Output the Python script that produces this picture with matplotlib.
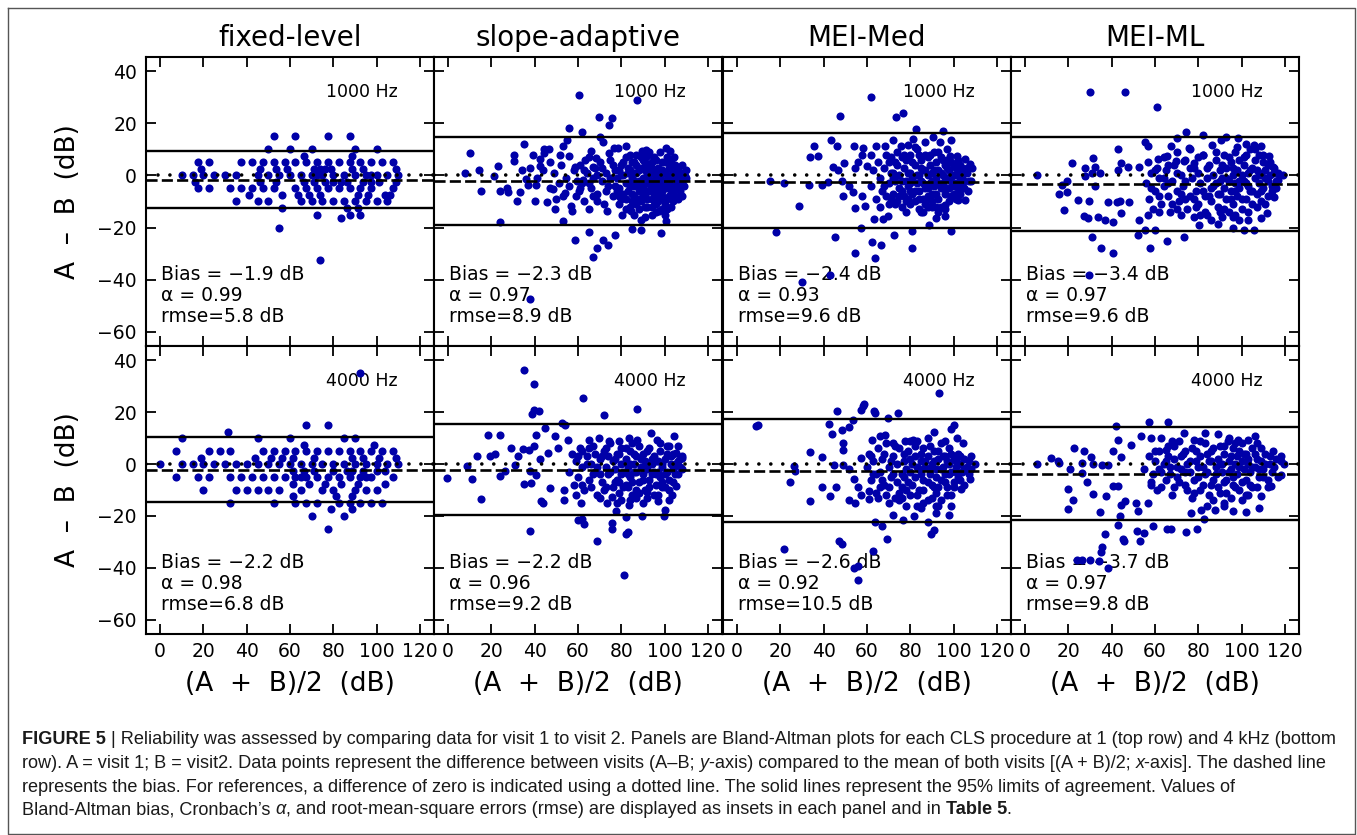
import matplotlib
matplotlib.use('Agg')
import matplotlib.pyplot as plt
import numpy as np
from matplotlib.lines import Line2D

# ---- data ----
procedures = ['fixed-level', 'slope-adaptive', 'MEI-Med', 'MEI-ML']
freqs = ['1000 Hz', '4000 Hz']

bias_1k = [-1.9, -2.3, -2.4, -3.4]
bias_4k = [-2.2, -2.2, -2.6, -3.7]
alpha_1k = [0.99, 0.97, 0.93, 0.97]
alpha_4k = [0.98, 0.96, 0.92, 0.97]
rmse_1k = [5.8, 8.9, 9.6, 9.6]
rmse_4k = [6.8, 9.2, 10.5, 9.8]
upper_1k = [9.2, 14.9, 16.1, 14.6]
lower_1k = [-12.6, -19.2, -20.2, -21.2]
upper_4k = [10.3, 15.4, 17.3, 14.2]
lower_4k = [-14.8, -19.6, -22.3, -21.5]

fixed_1k = [(52.5,15),(62.5,15),(77.5,15),(87.5,15),
    (50,10),(60,10),(70,10),(90,10),(100,10),(66.25,7.5),(88.75,7.5),
    (17.5,5),(22.5,5),(37.5,5),(42.5,5),(47.5,5),(52.5,5),(57.5,5),(62.5,5),(67.5,5),(72.5,5),
    (77.5,5),(82.5,5),(87.5,5),(92.5,5),(97.5,5),(102.5,5),(107.5,5),
    (18.75,2.5),(46.25,2.5),(53.75,2.5),(58.75,2.5),(71.25,2.5),(73.75,2.5),(76.25,2.5),
    (78.75,2.5),(88.75,2.5),(93.75,2.5),(108.75,2.5),
    (10,0),(15,0),(20,0),(25,0),(30,0),(35,0),(45,0),(50,0),(55,0),(60,0),(65,0),(70,0),
    (72.5,0),(75,0),(80,0),(85,0),(90,0),(95,0),(97.5,0),(100,0),(105,0),(110,0),
    (16.25,-2.5),(46.25,-2.5),(53.75,-2.5),(66.25,-2.5),(71.25,-2.5),(76.25,-2.5),(80,-2.5),
    (83.75,-2.5),(86.25,-2.5),(93.75,-2.5),(97.5,-2.5),(101.25,-2.5),(108.75,-2.5),
    (17.5,-5),(22.5,-5),(32.5,-5),(37.5,-5),(42.5,-5),(47.5,-5),(52.5,-5),(62.5,-5),(67.5,-5),
    (72.5,-5),(77.5,-5),(82.5,-5),(87.5,-5),(92.5,-5),(97.5,-5),(107.5,-5),
    (41.25,-7.5),(56.25,-7.5),(63.75,-7.5),(68.75,-7.5),(73.75,-7.5),(91.25,-7.5),(96.25,-7.5),
    (103.75,-7.5),(106.25,-7.5),
    (35,-10),(45,-10),(50,-10),(65,-10),(70,-10),(75,-10),(80,-10),(85,-10),(90,-10),(95,-10),
    (100,-10),(105,-10),
    (56.25,-12.5),(86.25,-12.5),(91.25,-12.5),(72.5,-15),(87.5,-15),(92.5,-15),(83.75,-16.25),
    (55,-20),(73.75,-32.5)]

fixed_4k = [(92.5,35),(67.5,15),(77.5,15),(31.25,12.5),
    (10,10),(45,10),(60,10),(85,10),(90,10),(66.25,7.5),(98.75,7.5),
    (7.5,5),(22.5,5),(27.5,5),(32.5,5),(47.5,5),(52.5,5),(57.5,5),(62.5,5),(67.5,5),(72.5,5),
    (77.5,5),(82.5,5),(87.5,5),(92.5,5),(97.5,5),(102.5,5),(107.5,5),
    (18.75,2.5),(43.75,2.5),(51.25,2.5),(56.25,2.5),(61.25,2.5),(71.25,2.5),(88.75,2.5),
    (93.75,2.5),(101.25,2.5),(108.75,2.5),
    (0,0),(10,0),(15,0),(20,0),(25,0),(30,0),(35,0),(40,0),(45,0),(50,0),(55,0),(60,0),(65,0),
    (70,0),(75,0),(80,0),(85,0),(90,0),(95,0),(100,0),(105,0),(110,0),
    (61.25,-2.5),(66.25,-2.5),(71.25,-2.5),(80,-2.5),(86.25,-2.5),(88.75,-2.5),(93.75,-2.5),
    (100,-2.5),(103.75,-2.5),
    (7.5,-5),(17.5,-5),(22.5,-5),(32.5,-5),(37.5,-5),(42.5,-5),(47.5,-5),(52.5,-5),(57.5,-5),
    (62.5,-5),(65,-5),(67.5,-5),(72.5,-5),(77.5,-5),(82.5,-5),(87.5,-5),(92.5,-5),(95,-5),
    (97.5,-5),(107.5,-5),
    (61.25,-7.5),(68.75,-7.5),(76.25,-7.5),(83.75,-7.5),(91.25,-7.5),(103.75,-7.5),
    (20,-10),(35,-10),(40,-10),(45,-10),(50,-10),(55,-10),(65,-10),(75,-10),(80,-10),(90,-10),
    (95,-10),(100,-10),
    (61.25,-12.5),(81.25,-12.5),(88.75,-12.5),
    (32.5,-15),(52.5,-15),(62.5,-15),(67.5,-15),(72.5,-15),(82.5,-15),(87.5,-15),(92.5,-15),
    (97.5,-15),(102.5,-15),
    (78.75,-17.5),(88.75,-17.5),(70,-20),(85,-20),(77.5,-25)]

slope_1k = [(60.5,30.8),(87.3,28.9),(69.5,22.3),(75.6,21.9),(74.1,19.4),(56,18.1),(61.9,16.8),
    (70.3,14.9),(71.4,13),(55,13.6),(10,8.5),(7.7,1.1),(14.2,2.2),(15.2,-5.9),(23.9,-18),
    (21.1,-0.4),(23,3.6),(24.2,-5.9),(27.9,-6.5),(27,-4.8),(30.3,7.9),(30.5,5.6),(32,-9.7),
    (34.2,2.2),(35,12.1),(36.1,-1.4),(37,-3.6),(33.2,-6.5),(40,-9.7),(40.7,-3.6),(42.3,6.2),
    (42.3,3.7),(44.3,10),(46.5,10),(44.5,8.5),(43.8,2.2),(45.6,-10.2),(48.4,-5.2),(49.5,-12.9),
    (50,-9),(51.9,7.9),(53,11.1),(53.1,-17.3),(53.8,-6.8),(54.5,-1),(55.7,7.5),(56.8,-11.8),
    (57.1,-13.8),(58.7,-24.8),(58.8,3.4),(59.6,-2.3),(60.6,-6.1),(62.5,-1.7),(63.2,6),
    (64.9,-21.8),(65.2,-12.9),(66,9.2),(66.8,3.4),(67.1,-31.2),(68.3,6.6),(68.8,-27.8),
    (68.8,-9.9),(71.4,-24.6),(73.4,-13.8),(73.7,-26.5),(74.4,8.5),(76.4,10.4),(77.2,-22.8),
    (78.3,10.4),(79,-8),(80.2,-15),(82.1,11.1),(83.3,0.9),(84.4,-13.8),(85.1,-20.4),(89,-21.1),
    (89.7,9.2),(91.2,9.8),(92,7.3),(92.8,0.9),(93.6,-4.2),(97.4,-13.8),(98.5,-22),(100.5,10.7),
    (100.8,-17.3),(102.3,9.2),(104.3,7),(105.4,3.4),(106.6,0.3),(107.4,-2.3),(109.3,-0.1),
    (37.7,-47.3),(38,3),(39,8),(41,-1),(47,-5),(47,5),(49,1),(51,-3),(52,4),(53,-8),
    (56,-4),(58,2),(59,-8),(61,4),(62,-3),(63,-10),(64,1),(65,7),(66,-5),(67,-1),(68,3),(69,-7),
    (70,5),(71,-2),(72,-11),(73,1),(74,-4),(75,6),(76,-8),(77,2),(78,-1),(79,-5),(80,4),(80,-9),
    (81,0),(82,-3),(82,7),(83,-6),(84,2),(84,-12),(85,-1),(85,5),(86,-4),(86,-8),(87,1),(87,8),
    (88,-2),(88,-6),(89,3),(89,-10),(90,-1),(90,-4),(90,6),(91,-7),(91,2),(92,-3),(92,-12),
    (93,0),(93,4),(93,-6),(94,-2),(94,-9),(95,1),(95,-5),(95,7),(96,-3),(96,-14),(97,0),(97,3),
    (97,-7),(98,-1),(98,-4),(98,9),(99,2),(99,-8),(100,-2),(100,5),(100,-11),(101,0),(101,-5),
    (102,3),(102,-3),(103,-7),(103,6),(104,-1),(104,1),(105,-4),(105,4),(106,-2),(106,-9),
    (107,1),(108,-3),(108,4),(109,0),(110,-1),
    (86,-15),(88,-13),(91,-16),(94,-15),(96,-11),(99,-13),(101,-9),(103,-12),(89,-17),(92,-9),
    (85,-10),(83,-3),(81,-7),(79,2),(77,-4),(75,-1),(73,-6),(71,3),(69,0),(67,-8),(65,-3),
    (63,2),(61,-5),(87,-3),(91,-1),(95,-7),(97,-10),(99,-2),(94,5),(90,3),(86,5),
    (76,4),(78,-6),(79,-11),(80,0),(81,5),(82,-9),(83,3),(84,-4),(85,-7),(86,1),(87,-11),(87,4),
    (88,2),(89,-4),(89,7),(90,-8),(91,-12),(91,5),(92,0),(93,-2),(93,9),(94,-6),(94,3),(95,-10),
    (96,0),(96,6),(97,-5),(98,1),(98,-9),(99,-6),(99,5),(100,-4),(100,1),(101,-13),(101,7),
    (102,-1),(102,-8),(103,4),(103,-4),(104,-10),(104,-6),(105,1),(105,-8),(106,3),(106,-5),
    (107,-2),(107,-6),(108,1),(108,-8),(109,-4),(110,2),(84,8),(86,-2),(88,-9),(90,-6),(92,-6),
    (96,-1),(100,-15),(94,-12),(82,-13)]

med_1k = [(62,29.9),(47.5,22.9),(73.3,22.5),(76.8,23.8),(82.8,17.8),(95.2,17.1),(43.4,13.6),
    (35.4,11.1),(33.6,7),(37.6,7.3),(46.2,11.1),(44.2,3.1),(46.8,2.2),(49.2,4.7),(54,11.1),
    (58.3,10.4),(57.5,7.9),(56,5.1),(54.4,2.8),(59.8,3.8),(61.8,7.9),(48.3,-2),(15.3,-2),
    (21.5,-2.9),(33.4,-3.6),(39.1,-3.8),(42.2,-2.7),(28.4,-11.8),(18.1,-21.8),(45.2,-23.7),
    (49.1,-7.8),(51.7,-3.9),(53.7,-6.5),(54.4,-12.5),(57.5,-7.8),(59,-11.8),(57,-20.1),
    (62.1,-25.6),(66.3,-26.8),(54.4,-29.7),(63.9,-31.6),(42.9,-38.3),(29.9,-40.8),(63.3,-16.9),
    (67.5,-16.9),(69.8,-15.4),(72.4,-22.8),(81,-27.8),(81,-21.4),(88.5,-19.1),(92,-16.3),
    (95.9,-15.4),(98.9,-21.4),(64.3,11.1),(68.5,11.1),(71.8,13.4),(75.9,11.1),(79,11.5),
    (81.3,13.9),(86.7,13),(90.5,14.9),(93.7,13),(98.6,13.4),(98.5,7.3),(101.7,7.3),(105.1,6.4),
    (107.7,4.3),(108.4,2.8),(108.1,-2.3),(106.6,-6.1),(105.1,-9.3),(102,-9.3),(98.9,-8),
    (95.9,-11.2),
    (62,-4),(63,2),(64,-9),(65,5),(66,-1),(67,-6),(68,3),(69,8),(70,-3),(70,-11),(71,1),(72,-7),
    (73,5),(73,-2),(74,9),(75,-5),(75,0),(76,-12),(77,3),(77,-8),(78,6),(78,-2),(79,-4),(80,1),
    (80,8),(81,-7),(81,-1),(82,4),(82,-10),(83,-3),(83,10),(84,0),(84,-6),(85,6),(85,-2),
    (86,-9),(86,2),(87,-5),(87,8),(88,0),(88,-12),(89,-3),(89,4),(90,-7),(90,1),(91,9),(91,-4),
    (92,-1),(92,5),(93,-9),(93,2),(94,-5),(94,7),(95,0),(95,-3),(96,4),(96,-7),(97,-1),(97,10),
    (98,2),(98,-5),(99,-2),(99,5),(100,0),(100,-7),(101,3),(101,-3),(102,-5),(102,6),(103,1),
    (103,-1),(104,-4),(104,3),(105,-2),(106,1),
    (74,-10),(78,-14),(84,-13),(88,-8),(92,-12),(96,-13),(90,-10),(86,-14),(80,-11),(76,7),
    (80,-6),(84,8),(88,7),(93,9),(97,6),(72,-1),(69,-8),(66,-12),(71,7),
    (68,-4),(70,5),(71,-9),(72,1),(73,-11),(74,4),(75,-8),(76,-2),(77,8),(78,-10),(79,1),(80,-3),
    (81,5),(82,-6),(83,0),(84,-9),(85,3),(86,-3),(87,-11),(87,2),(88,-5),(89,8),(90,-2),
    (90,-12),(91,2),(92,-7),(93,-3),(94,1),(94,-12),(95,6),(96,-1),(97,-5),(97,3),(98,-10),
    (99,0),(100,4),(100,-4),(101,-9),(102,0),(103,-7),(103,4),(104,-1),(105,-5),(106,3),
    (107,-2),(79,-9),(85,-14),(89,-9),(93,-14),(82,11),(76,-6)]

ml_1k = [(30,31.8),(46.3,31.8),(60.7,26.4),(74.1,16.8),(70,14.5),(82,15.5),(92.8,14.9),
    (98.5,14.3),(102,12.1),(105.5,11.7),(108.9,11.1),(55.2,13),(42.9,10),(56.7,11.1),(67.5,11.1),
    (75.9,10.7),(86.2,11.7),(90.5,13.6),(31.4,6.6),(21.8,4.7),(32.2,3.4),(42.9,1.9),(44.5,4.7),
    (47.5,3.1),(52.6,3.4),(56.7,5),(61.3,6.2),(65.6,7.3),(69.5,5.7),(73.6,5.6),(78.2,4.7),
    (82,7.9),(5.4,0.3),(17,-3.6),(19.2,-2.3),(15.8,-7.1),(19.5,-6.5),(18.1,-13.4),(27.6,-0.4),
    (27.6,2.8),(30.7,0.9),(34.5,0.9),(24.5,-9.3),(29.6,-9.9),(32.2,-4.2),(27.3,-15.7),
    (29.2,-16.3),(33.7,-15.9),(36.8,-17.2),(40.5,-17.8),(31,-23.7),(35,-28),(40.6,-29.7),
    (29.4,-38.1),(38.3,-10.3),(42.6,-10.3),(43.7,-9.9),(44.5,-14.4),(47.9,-10.2),(52.6,-17.2),
    (52.1,-22.7),(56.7,-15.3),(55.2,-20.8),(59.8,-20.8),(57.5,-27.8),(65.6,-25.2),(73.6,-23.7),
    (80.5,-18.9),(89,-18.6),(95.9,-20.1),(101.2,-21.1),(105.5,-21.1),(108.9,-16.3),
    (111.9,-14.4),(115,-8.4),(118.9,0.3),(116.6,-1.7),(114.7,3.4),(112.7,7.3),
    (56,-3),(57,-9),(58,1),(59,-13),(60,-6),(61,3),(62,-1),(63,-11),(64,-4),(65,2),(66,-8),
    (67,-14),(68,-2),(69,4),(70,-6),(71,-10),(72,0),(73,-4),(74,6),(75,-13),(76,-8),(77,-1),
    (78,3),(79,-6),(80,-11),(80,1),(81,-3),(82,8),(83,-8),(83,-14),(84,-1),(85,4),(86,-5),
    (86,-10),(87,0),(88,6),(88,-3),(89,-12),(90,-7),(90,2),(91,-1),(92,-5),(92,8),(93,-9),
    (93,3),(94,-2),(94,-14),(95,5),(95,-6),(96,0),(96,-11),(97,-3),(97,9),(98,2),(98,-8),
    (99,-5),(99,6),(100,0),(100,-13),(101,-2),(101,4),(102,-9),(102,8),(103,-4),(103,1),
    (104,-6),(104,10),(105,3),(105,-11),(106,-1),(106,6),(107,-7),(107,2),(108,-3),(108,8),
    (109,0),(109,-10),(110,5),(110,-5),(111,-1),(111,2),(112,-8),(112,4),(113,0),(114,-4),
    (115,1),(116,-2),
    (64,7),(70,9),(76,10),(84,-15),(91,-16),(97,-15),(78,-16),(72,-15),(66,-3),(62,-8),(58,-5),
    (74,-9),(86,-17),(99,-17),
    (60,2),(62,-14),(64,-1),(66,4),(68,-11),(70,1),(72,-7),(74,-2),(76,3),(78,-9),(80,7),
    (81,-15),(82,-6),(84,3),(85,-8),(87,-4),(88,9),(89,-7),(90,-2),(91,4),(92,-13),(93,-1),
    (94,7),(95,-9),(96,3),(97,-6),(98,11),(99,-2),(100,-9),(101,7),(102,-3),(103,-14),(104,2),
    (105,-6),(106,10),(107,-12),(108,1),(109,-6),(110,8),(111,-11),(112,-2),(113,5),(114,-6),
    (115,3),(116,-5),(117,1),(96,-16),(103,-17),(90,-14),(79,-12),(70,-13)]

slope_4k = [(35.2,36.3),(39.5,30.9),(62.2,25.4),(87.1,21),(38.6,19.4),(39.5,20.9),(42,20.3),
    (72.1,19),(52.7,15.8),(54.2,15.1),(44.7,13.8),(18.5,11),(23.9,11),(40.7,11),(28.9,6.2),
    (34.6,5.9),(37.2,5.3),(39.5,7.1),(19.3,2.9),(21.6,4),(13.5,2.9),(8.6,-0.9),(-0.6,-5.4),
    (10.9,-5.8),(15.2,-13.3),(23.9,-4.5),(26.2,-2.6),(30.8,-0.5),(32.3,2.9),(35.1,-7.7),
    (38.1,-7.3),(37.7,-2.8),(40.7,-4.1),(42.5,2.1),(43,-14.1),(44,-15),(37.9,-25.9),(46.1,4.2),
    (46.9,-9.2),(49.6,10.6),(50.7,6.2),(53.7,-10.1),(53.7,-13.7),(55.5,9.4),(59.1,-11.8),
    (59.8,-21.4),(61.7,-21),(61.4,-15),(62.6,-23.1),(68.6,-29.7),(65.2,9.4),(69.8,10),(74.4,8.7),
    (79,8.7),(83.6,10),(87.1,9.4),(93.6,11.9),(96.6,9.4),(104.3,10.6),(106.3,6.8),(105.1,4.2),
    (108.2,2.3),(73.4,-15),(75.6,-12.7),(75.9,-22.7),(75.6,-25),(77.5,-18.2),(82.1,-20.4),
    (83.3,-26.3),(82.1,-26.9),(81.3,-42.8),(83.6,-15.9),(89.4,-19.9),(91.7,-10.8),(97.1,-14.1),
    (100.3,-17.6),(99.5,-19.9),(105.1,-8.6),(103.5,-11.8),(87,-13.1),
    (56,-3),(57,4),(58,-8),(59,1),(60,-5),(61,6),(62,-1),(63,-10),(64,3),(65,-6),(66,0),(67,7),
    (68,-3),(69,-12),(70,2),(71,-7),(72,5),(73,-1),(74,-4),(75,8),(76,-9),(76,1),(77,-2),(78,4),
    (78,-6),(79,-11),(80,0),(80,6),(81,-3),(82,-8),(82,2),(83,-1),(84,5),(84,-5),(85,-12),
    (86,0),(86,-3),(87,3),(88,-7),(88,7),(89,-1),(90,-4),(90,4),(91,-10),(91,1),(92,-2),(93,6),
    (93,-6),(94,0),(95,-3),(95,3),(96,-8),(97,1),(97,-12),(98,-5),(98,5),(99,-1),(100,2),
    (100,-9),(101,-3),(102,7),(102,-6),(103,0),(104,-2),(104,4),(105,-4),(106,1),(107,-1),
    (108,3),
    (66,-9),(70,-4),(74,3),(79,-7),(83,-9),(87,-10),(92,-13),(96,-4),(99,-7),(101,4),(85,8),
    (80,-14),(73,-9),(62,5),(68,4),
    (60,3),(62,-8),(64,0),(65,6),(67,-4),(69,-1),(71,3),(72,-10),(73,6),(75,-3),(77,-7),(77,2),
    (79,4),(80,-4),(81,-9),(82,6),(83,-4),(84,0),(85,-7),(86,4),(87,-3),(88,-11),(89,2),(90,-6),
    (91,-1),(92,5),(93,-9),(94,-4),(94,2),(95,-12),(96,1),(97,-3),(98,8),(99,-9),(99,0),
    (100,-4),(101,7),(102,-10),(103,3),(104,-7),(105,0),(106,-4),(107,2),(108,-2),(70,-13),
    (78,-15),(84,-14),(90,-15),(102,-14)]

med_4k = [(93.3,27.3),(8.9,14.7),(9.7,15.1),(46,20.3),(58,22.4),(58.7,23.2),(57.2,20.9),
    (63.2,20.5),(63.7,19.6),(69.5,17.7),(74.4,19.6),(53.4,17),(51.8,14.1),(42.5,15.5),
    (43.7,11.5),(48.3,13.2),(49.1,8.1),(48.8,5.5),(33.9,4.6),(39.4,2.6),(44.8,-0.3),(48.8,-0.3),
    (51.8,-1.9),(26.1,-0.9),(26.9,-2.6),(24.5,-6.9),(33.9,-14.4),(39.4,-8.8),(42.9,-12.4),
    (45.7,-8.8),(51.7,-13.7),(54.4,-15),(54,-5.8),(55.7,-8.8),(57,-11.8),(57.2,2.3),(61,-10.5),
    (61,-13.5),(63.7,-22.4),(66.7,-24),(69.3,-28.8),(62.9,-33.3),(47.1,-29.7),(48.3,-30.8),
    (21.8,-32.7),(54,-40),(55.7,-39.4),(56,-44.7),(71.8,-19.5),(76.7,-21.4),(81.7,-20.1),
    (88.2,-22.4),(89.4,-26.9),(90.9,-25.3),(91.7,-18.8),(97.9,-19.7),(68.3,11.3),(62.1,9.4),
    (66,10.6),(77.5,8.7),(81.3,9.4),(90.9,12.2),(98.9,13.5),(100.2,15.1),(101.5,10),(104.3,8.1),
    (108.1,2.9),(110,0),(107.4,-5.8),(103.2,-9.6),(98.9,-16.3),(92.8,-16),
    (60,-1),(61,4),(62,-6),(63,1),(64,-11),(65,6),(66,-3),(67,2),(68,-8),(69,8),(70,-1),(71,-5),
    (72,3),(73,-13),(74,0),(75,6),(76,-4),(76,-9),(77,1),(78,-2),(79,5),(79,-7),(80,-12),(81,0),
    (82,3),(82,-5),(83,9),(84,-2),(84,-10),(85,1),(86,-6),(86,6),(87,-1),(88,-14),(88,3),(89,-4),
    (90,0),(90,-8),(91,5),(92,-2),(92,-11),(93,2),(94,-6),(94,8),(95,-1),(96,-4),(96,3),(97,-9),
    (98,0),(98,6),(99,-3),(100,-7),(100,2),(101,-1),(102,4),(102,-5),(103,0),(104,-3),(105,2),
    (106,-1),(107,-4),
    (70,-15),(78,-16),(86,-15),(94,-14),(83,-16),(75,-11),(91,-9),(99,-12),(72,8),(80,9),(88,10),
    (96,9),(66,-9),(63,-4),
    (62,3),(64,-4),(65,-13),(67,-6),(68,4),(70,-9),(71,1),(72,-4),(73,7),(74,-7),(75,-14),(77,-5),
    (77,4),(78,-10),(80,-3),(80,2),(81,-8),(82,7),(83,-12),(83,-1),(85,-4),(85,4),(86,-10),(87,1),
    (88,-7),(89,7),(89,-2),(90,-13),(91,1),(92,-5),(93,5),(93,-9),(94,-2),(95,3),(96,-7),(97,1),
    (97,-12),(98,-4),(99,4),(100,-9),(101,1),(101,-3),(103,-6),(103,3),(105,-2),(105,-8),(107,1),
    (108,-2),(69,-12),(76,-13),(85,-17),(92,-16)]

ml_4k = [(42.2,14.7),(57.1,16.2),(66,16.2),(53.7,10.6),(58.3,10),(62.9,10),(48.8,7.4),(42.9,9.4),
    (22.7,6.2),(27.1,5.1),(40.6,4.9),(44.5,2.7),(11.8,2.3),(15,1),(5.7,0),(15.6,0.4),(20.7,-1.9),
    (26.1,0.4),(26.1,-3.5),(30.4,2.6),(31.4,0),(35.3,-0.3),(38.3,-0.3),(28.4,-7.1),(31.4,-11.4),
    (37.3,-12.2),(19.9,-9.5),(22.2,-14),(19.6,-17.3),(34.5,-18.5),(40.6,-8.6),(42.9,-8.6),
    (44.5,-15.9),(46,-14.4),(43.7,-20.1),(42.9,-23.3),(37.1,-26.9),(35.3,-31.9),(35,-33.8),
    (45.2,-28.8),(45.7,-29.7),(51.8,-25.9),(54.9,-26.5),(52.9,-29.7),(24.2,-37.1),(26.1,-37.1),
    (29.9,-37.1),(34,-37.4),(38.3,-40),(51.4,-15),(52.1,-18.2),(56.7,-15),(59.1,-24),
    (65.6,-24.9),(67.5,-24.9),(74.1,-26.2),(79.3,-24.9),(76.4,-18.8),(81.3,-17.8),(82.8,-21.2),
    (87.9,-17.6),(92,-16.3),(95.9,-18.2),(101.9,-18.6),(108.1,-16.9),(108.9,-12.4),(113.5,-8.6),
    (114.7,4.9),(118.1,2.9),(119.6,0.1),(118.1,-4.1),(106.1,10.6),(102.8,9.4),(98.2,9.4),
    (93.6,8.7),(89.3,11.5),(83.1,11.9),(78.2,9.1),(73.2,11.9),(69,6.8),(65.2,5.3),
    (55,-2),(57,3),(58,-7),(60,1),(61,-10),(62,5),(63,-3),(64,0),(65,-6),(66,7),(67,-1),(68,-12),
    (69,2),(70,-5),(71,9),(72,-2),(73,4),(74,-8),(75,0),(76,-3),(77,6),(78,-11),(79,1),(80,-5),
    (81,3),(82,-1),(82,-8),(83,8),(84,-3),(85,1),(85,-12),(86,5),(87,-6),(88,-1),(89,2),(89,-9),
    (90,7),(91,-3),(91,0),(92,4),(93,-6),(93,-11),(94,1),(95,-2),(96,6),(96,-8),(97,0),(98,3),
    (98,-4),(99,-10),(100,1),(100,8),(101,-2),(102,4),(102,-6),(103,0),(104,-3),(105,6),(105,-9),
    (106,-1),(107,2),(108,-5),(109,1),(110,-2),(111,4),(112,-6),(113,0),(114,-3),(116,2),
    (87,-14),(95,-13),(103,-12),(77,-13),(69,-9),(59,-4),(66,3),(74,5),(81,9),(94,10),(99,5),
    (107,8),
    (58,-8),(60,5),(62,-2),(63,-9),(65,1),(67,-4),(68,9),(70,-1),(71,-7),(72,3),(74,-3),(75,-10),
    (76,1),(78,-6),(79,5),(80,-1),(81,-10),(83,-4),(84,4),(86,-8),(86,1),(87,6),(88,-4),(90,-11),
    (90,0),(92,-7),(92,7),(94,-3),(95,3),(96,-5),(97,8),(97,-9),(99,-1),(100,-7),(101,4),
    (102,-12),(103,2),(104,-8),(105,-1),(106,4),(107,-9),(108,-2),(109,6),(110,-5),(111,0),
    (112,-9),(113,3),(115,-1),(117,-5),(118,1),(84,-16),(92,-15),(100,-14)]

panels = [[fixed_1k, slope_1k, med_1k, ml_1k], [fixed_4k, slope_4k, med_4k, ml_4k]]
bias = [bias_1k, bias_4k]
alpha = [alpha_1k, alpha_4k]
rmse = [rmse_1k, rmse_4k]
upper = [upper_1k, upper_4k]
lower = [lower_1k, lower_4k]

# ---- layout (pixels) ----
W, H = 1357, 835
lefts = [146, 434, 723, 1011]
pw = 288
rows = [(57, 346), (346, 634)]
dot_color = '#0000A8'

fig = plt.figure(figsize=(W / 100, H / 100), dpi=100)

for r in range(2):
    top, bot = rows[r]
    for c in range(4):
        ax = fig.add_axes([lefts[c] / W, (H - bot) / H, pw / W, (bot - top) / H])
        pts = np.array(panels[r][c], dtype=float)
        ax.scatter(pts[:, 0], pts[:, 1], s=34, color=dot_color, linewidths=0, zorder=2)
        ax.axhline(upper[r][c], color='k', lw=1.7, zorder=3)
        ax.axhline(lower[r][c], color='k', lw=1.7, zorder=3)
        ax.axhline(bias[r][c], color='k', lw=1.9, dashes=(4.2, 1.6), zorder=3)
        ax.axhline(0, color='k', lw=2.6, dashes=(0.01, 3.3), dash_capstyle='round', zorder=3)

        ax.set_xlim(-6.5, 126.5)
        ax.set_ylim(-65.4, 45.4)
        ax.set_xticks(range(0, 121, 20))
        ax.set_yticks(range(-60, 41, 20))
        ax.tick_params(direction='in', length=7, width=1.3, top=True, right=True,
                       labelsize=13.5, pad=6)
        ax.tick_params(axis='y', pad=6.5)
        for sp in ax.spines.values():
            sp.set_linewidth(1.5)
        if c > 0:
            ax.tick_params(labelleft=False)
        if r == 0:
            ax.tick_params(labelbottom=False)

        ax.text(0.875, 0.878, freqs[r], transform=ax.transAxes, ha='right', va='center',
                fontsize=12.5, zorder=1)
        ax.text(0.051, 0.249, 'Bias = \u2212%.1f dB' % abs(bias[r][c]), transform=ax.transAxes,
                ha='left', va='center', fontsize=13.5, zorder=1)
        ax.text(0.051, 0.176, '\u03b1 = %.2f' % alpha[r][c], transform=ax.transAxes,
                ha='left', va='center', fontsize=13.5, zorder=1)
        ax.text(0.051, 0.102, 'rmse=%.1f dB' % rmse[r][c], transform=ax.transAxes,
                ha='left', va='center', fontsize=13.5, zorder=1)

        cx = (lefts[c] + pw / 2) / W
        if r == 0:
            fig.text(cx, 1 - 38 / H, procedures[c], ha='center', va='center', fontsize=20)
        else:
            fig.text(cx, 1 - 684 / H, '(A  +  B)/2  (dB)', ha='center', va='center', fontsize=19)

    fig.text(68 / W, 1 - ((top + bot) / 2) / H, 'A  \u2013  B  (dB)', rotation=90,
             ha='center', va='center', fontsize=19)

# outer frame
fig.add_artist(Line2D([8 / W, 1355 / W, 1355 / W, 8 / W, 8 / W],
                      [1 - 8 / H, 1 - 8 / H, 1 - 834 / H, 1 - 834 / H, 1 - 8 / H],
                      transform=fig.transFigure, color='#555555', lw=1))

# caption: runs of (text, weight, style, space before)
cap_font = 'Liberation Sans'
caption = [
    (740, [('FIGURE 5', 'bold', 'normal', False),
           ('| Reliability was assessed by comparing data for visit 1 to visit 2. Panels are '
            'Bland-Altman plots for each CLS procedure at 1 (top row) and 4 kHz (bottom', 'normal', 'normal', True)]),
    (764, [('row). A = visit 1; B = visit2. Data points represent the difference between visits (A\u2013B;', 'normal', 'normal', False),
           ('y', 'normal', 'italic', True),
           ('-axis) compared to the mean of both visits [(A + B)/2;', 'normal', 'normal', False),
           ('x', 'normal', 'italic', True),
           ('-axis]. The dashed line', 'normal', 'normal', False)]),
    (787, [('represents the bias. For references, a difference of zero is indicated using a dotted line. '
            'The solid lines represent the 95% limits of agreement. Values of', 'normal', 'normal', False)]),
    (810, [('Bland-Altman bias, Cronbach\u2019s', 'normal', 'normal', False),
           ('\u03b1', 'normal', 'italic', True),
           (', and root-mean-square errors (rmse) are displayed as insets in each panel and in', 'normal', 'normal', False),
           ('Table 5', 'bold', 'normal', True),
           ('.', 'normal', 'normal', False)]),
]

renderer = fig.canvas.get_renderer()


def draw_line(ypix, runs, size):
    p1 = fig.text(0, 0, 'a a', fontsize=size, family=cap_font)
    p2 = fig.text(0, 0, 'aa', fontsize=size, family=cap_font)
    space_w = p1.get_window_extent(renderer).width - p2.get_window_extent(renderer).width
    p1.remove()
    p2.remove()
    x = 22
    made = []
    for txt, weight, style, sp in runs:
        if sp:
            x += space_w
        t = fig.text(x / W, 1 - ypix / H, txt, fontsize=size, family=cap_font,
                     weight=weight, style=style, color='#1a1a1a', ha='left', va='center')
        made.append(t)
        x += t.get_window_extent(renderer).width
    return made, x


# fit the first line to the width of the reference caption
trial, end = draw_line(caption[0][0], caption[0][1], 12)
for t in trial:
    t.remove()
cap_size = 12 * (1338 - 22) / (end - 22)
for ypix, runs in caption:
    draw_line(ypix, runs, cap_size)

fig.savefig('out.png', dpi=100)
